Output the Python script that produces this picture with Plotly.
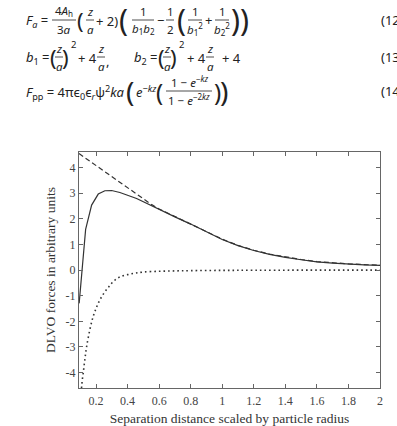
import plotly.graph_objects as go

# ---------------- data ----------------
x_rep = [0.092, 0.15, 0.2, 0.25, 0.3, 0.35, 0.4, 0.45, 0.5, 0.55, 0.6, 0.7, 0.8, 0.9,
         1.0, 1.1, 1.2, 1.3, 1.4, 1.5, 1.6, 1.7, 1.8, 1.9, 2.0]
y_rep = [4.54, 4.29, 4.07, 3.85, 3.64, 3.42, 3.20, 2.98, 2.77, 2.56, 2.38, 2.09, 1.80, 1.50,
         1.20, 0.96, 0.77, 0.62, 0.50, 0.41, 0.33, 0.28, 0.24, 0.21, 0.19]

x_tot = [0.093, 0.134, 0.172, 0.214, 0.256, 0.299, 0.351, 0.40, 0.457, 0.5, 0.562, 0.6,
         0.7, 0.8, 0.9, 1.0, 1.1, 1.2, 1.3, 1.4, 1.5, 1.6, 1.7, 1.8, 1.9, 2.0]
y_tot = [-1.3, 1.58, 2.53, 2.96, 3.09, 3.10, 3.02, 2.92, 2.79, 2.66, 2.47, 2.35,
         2.07, 1.79, 1.49, 1.19, 0.95, 0.76, 0.61, 0.49, 0.40, 0.32, 0.27, 0.23, 0.20, 0.18]

x_att = [0.1, 0.105, 0.11, 0.12, 0.13, 0.14, 0.16, 0.18, 0.2, 0.22, 0.25, 0.28, 0.31,
         0.35, 0.4, 0.45, 0.5, 0.6, 0.7, 0.8, 1.0, 1.2, 1.5, 2.0]
y_att = [-5.5, -4.9, -4.45, -3.95, -3.45, -3.0, -2.35, -1.85, -1.5, -1.22, -0.9, -0.66, -0.45,
         -0.27, -0.18, -0.12, -0.08, -0.05, -0.035, -0.025, -0.015, -0.01, -0.006, -0.003]

x_ticks = [0.2, 0.4, 0.6, 0.8, 1.0, 1.2, 1.4, 1.6, 1.8, 2.0]
x_tick_text = ["0.2", "0.4", "0.6", "0.8", "1", "1.2", "1.4", "1.6", "1.8", "2"]
y_ticks = [-4, -3, -2, -1, 0, 1, 2, 3, 4]
y_tick_text = ["-4", "-3", "-2", "-1", "0", "1", "2", "3", "4"]

x_title = "Separation distance scaled by particle radius"
y_title = "DLVO forces in arbitrary units"

# ---------------- figure ----------------
W, H = 397, 426
L, R, T, B = 79, 380, 152, 388
SERIF = "Liberation Serif"
EQ = "Noto Sans"
INK = "#222222"
LINE = "#333333"
AX = "#666666"

fig = go.Figure()
fig.add_trace(go.Scatter(x=x_tot, y=y_tot, mode="lines",
                         line=dict(color=LINE, width=1.2), showlegend=False))
fig.add_trace(go.Scatter(x=x_rep, y=y_rep, mode="lines",
                         line=dict(color=LINE, width=1.2, dash="5px,3px"), showlegend=False))
fig.add_trace(go.Scatter(x=x_att, y=y_att, mode="lines", line_shape="spline",
                         line=dict(color=LINE, width=1.6, dash="1.6px,3px"), showlegend=False))

axis_common = dict(showline=True, linecolor=AX, linewidth=1, mirror="allticks",
                   ticks="inside", ticklen=4, tickcolor=AX, showgrid=False, zeroline=False,
                   automargin=False,
                   tickfont=dict(family=SERIF, size=12, color="#444444"))
fig.update_xaxes(range=[0.092, 2.0], tickvals=x_ticks, ticktext=x_tick_text,
                 ticklabelstandoff=2,
                 title=dict(text=x_title, font=dict(family=SERIF, size=13.5, color="#333333"),
                            standoff=6),
                 **axis_common)
fig.update_yaxes(range=[-4.6, 4.6], tickvals=y_ticks, ticktext=y_tick_text,
                 title=dict(text=y_title, font=dict(family=SERIF, size=13.5, color="#333333"),
                            standoff=6),
                 **axis_common)

fig.update_layout(width=W, height=H, margin=dict(l=L, r=W - R, t=T, b=H - B),
                  paper_bgcolor="white", plot_bgcolor="white")


# ---------------- equations (text above the chart) ----------------
def P(px, py):
    return (px - L) / (R - L), (B - py) / (B - T)


def txt(s, px, py, size=12.5, anchor="center", family=EQ):
    x, y = P(px, py)
    fig.add_annotation(x=x, y=y, xref="paper", yref="paper", text=s, showarrow=False,
                       xanchor=anchor, yanchor="middle", borderpad=0,
                       font=dict(family=family, size=size, color=INK))


def bar(px0, px1, py):
    x0, y0 = P(px0, py)
    x1, _ = P(px1, py)
    fig.add_shape(type="line", xref="paper", yref="paper", x0=x0, y0=y0, x1=x1, y1=y0,
                  line=dict(color=INK, width=0.8))


def frac(num, den, cx, cy, half, size=11.5):
    txt(num, cx, cy - 9, size)
    bar(cx - half, cx + half, cy)
    txt(den, cx, cy + 9, size)


# eq 12
y1 = 20
txt("<i>F</i><sub><i>a</i></sub> =", 25, y1 + 1, 13, "left")
frac("4<i>A</i><sub>h</sub>", "3<i>a</i>", 64, y1, 12)
txt("(", 80, y1, 22)
frac("<i>z</i>", "<i>a</i>", 90, y1, 4)
txt("+ 2)", 107, y1 + 1, 13)
txt("(", 123, y1, 30)
frac("1", "<i>b</i><sub>1</sub><i>b</i><sub>2</sub>", 143, y1, 11)
txt("−", 160, y1, 13)
frac("1", "2", 170, y1, 4)
txt("(", 181, y1, 30)
frac("1", "<i>b</i><sub>1</sub><sup>2</sup>", 195, y1, 7)
txt("+", 208, y1, 13)
frac("1", "<i>b</i><sub>2</sub><sup>2</sup>", 222, y1, 7)
txt(")", 235, y1, 30)
txt(")", 245, y1, 30)
txt("(12", 380, y1, 13, "left")

# eq 13
y2 = 57
txt("<i>b</i><sub>1</sub> =", 25, y2 + 1, 13, "left")
txt("(", 53, y2, 22)
frac("<i>z</i>", "<i>a</i>", 59, y2, 4)
txt(")", 65, y2, 22)
txt("2", 73, y2 - 13, 9.5)
txt("+ 4", 87, y2 + 1, 13)
frac("<i>z</i>", "<i>a</i>", 101, y2, 4)
txt(",", 107, y2 + 4, 13)
txt("<i>b</i><sub>2</sub> =", 133, y2 + 1, 13, "left")
txt("(", 161, y2, 22)
frac("<i>z</i>", "<i>a</i>", 167, y2, 4)
txt(")", 173, y2, 22)
txt("2", 181, y2 - 13, 9.5)
txt("+ 4", 196, y2 + 1, 13)
frac("<i>z</i>", "<i>a</i>", 210, y2, 4)
txt("+ 4", 231, y2 + 1, 13)
txt("(13", 380, y2, 13, "left")

# eq 14
y3 = 91
txt("<i>F</i><sub>pp</sub> = 4πϵ<sub>0</sub>ϵ<sub><i>r</i></sub>ψ<sup>2</sup><i>ka</i>",
    25, y3 + 1, 13, "left")
txt("(", 130, y3, 28)
txt("<i>e</i><sup>−<i>kz</i></sup>", 135, y3, 13, "left")
txt("(", 159, y3, 24)
frac("1 − <i>e</i><sup>−<i>kz</i></sup>", "1 − <i>e</i><sup>−2<i>kz</i></sup>", 189, y3, 23)
txt(")", 217, y3, 24)
txt(")", 224, y3, 28)
txt("(14", 380, y3, 13, "left")

fig.write_html("out.html")
